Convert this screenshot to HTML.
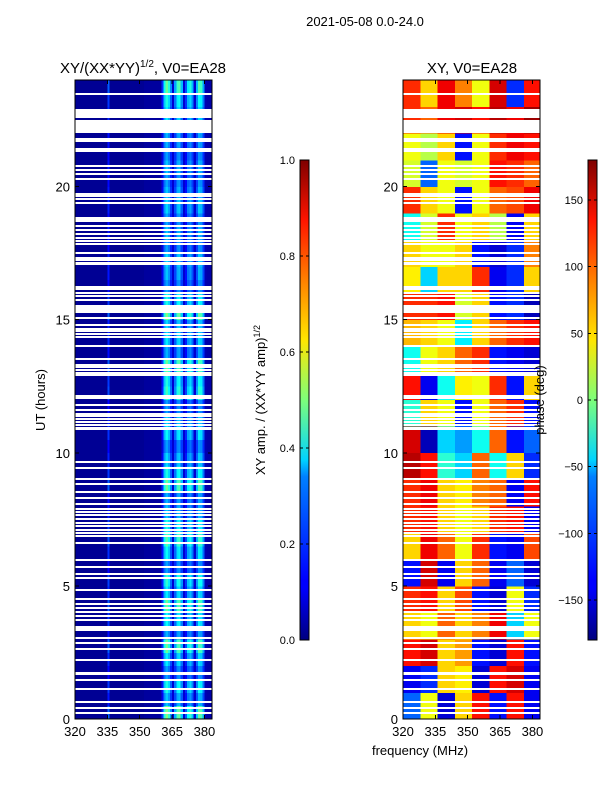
<!DOCTYPE html>
<html><head><meta charset="utf-8">
<style>
body{margin:0;background:#fff;}
svg text{font-family:"Liberation Sans",sans-serif;fill:#000;}
</style></head>
<body>
<svg id="fig" width="600" height="800" xmlns="http://www.w3.org/2000/svg" shape-rendering="crispEdges">
<defs>
<linearGradient id="jet" x1="0" y1="1" x2="0" y2="0">
<stop offset="0" stop-color="#00007f"/><stop offset="0.11" stop-color="#0000ff"/>
<stop offset="0.125" stop-color="#0000ff"/><stop offset="0.34" stop-color="#0080ff"/>
<stop offset="0.375" stop-color="#00d4ff"/><stop offset="0.5" stop-color="#7dff7a"/>
<stop offset="0.625" stop-color="#ffe600"/><stop offset="0.75" stop-color="#ff8000"/>
<stop offset="0.875" stop-color="#ff1400"/><stop offset="1" stop-color="#7f0000"/>
</linearGradient>
</defs>
<text x="365" y="26" font-size="13" text-anchor="middle">2021-05-08 0.0-24.0</text>
<text x="143" y="73" font-size="15" text-anchor="middle">XY/(XX*YY)<tspan font-size="10" dy="-6">1/2</tspan><tspan dy="6">, V0=EA28</tspan></text>
<text x="472" y="73" font-size="15" text-anchor="middle">XY, V0=EA28</text>
<g id="ampPlot"></g>
<g id="phasePlot"></g>
<g id="axes"></g>
<text transform="translate(45,400) rotate(-90)" font-size="13" text-anchor="middle">UT (hours)</text>
<text x="420" y="755" font-size="13" text-anchor="middle">frequency (MHz)</text>
<rect x="300" y="160" width="9" height="480" fill="url(#jet)" stroke="#000" stroke-width="1"/>
<rect x="588" y="160" width="9" height="480" fill="url(#jet)" stroke="#000" stroke-width="1"/>
<text transform="translate(265,400) rotate(-90)" font-size="13" text-anchor="middle">XY amp. / (XX*YY amp)<tspan font-size="9" dy="-5">1/2</tspan></text>
<text transform="translate(544,400) rotate(-90)" font-size="13" text-anchor="middle">phase (deg)</text>
<g id="cbars"></g>
</svg>
<script>
// ---- data ----
const freqTicks = [320, 335, 350, 365, 380];
const hourTicks = [0, 5, 10, 15, 20];
const ampTicks = [0.0, 0.2, 0.4, 0.6, 0.8, 1.0];
const phaseTicks = [-150, -100, -50, 0, 50, 100, 150];
// amplitude per 1-MHz channel (320..383)
const ampChan = [0.02,0.02,0.02,0.02,0.02,0.02,0.02,0.02,0.02,0.02,0.02,0.02,0.02,0.02,0.02,0.18,
 0.02,0.02,0.02,0.02,0.02,0.02,0.02,0.02,0.02,0.02,0.02,0.02,0.02,0.02,0.02,0.02,
 0.03,0.03,0.03,0.03,0.03,0.03,0.03,0.03,0.14,0.32,0.4,0.34,0.22,0.08,0.24,0.36,
 0.38,0.26,0.08,0.17,0.3,0.34,0.26,0.08,0.26,0.38,0.36,0.24,0.05,0.04,0.04,0.04];
// per half-hour modulation (0h..24h)
const ampHour = [1.25,0.8,1.0,0.7,0.9,1.2,0.75,0.95,1.2,0.9,1.05,0.7,0.95,1.15,1.0,0.8,0.75,1.2,1.0,0.85,
 0.7,0.95,0.85,0.7,1.1,1.0,1.2,0.75,0.9,0.85,1.25,1.0,0.7,0.8,0.85,0.7,0.8,0.72,0.85,0.8,0.72,0.8,0.7,0.75,0.85,0.9,1.0,1.2];
// phase (deg) per hour (rows 0..23) x 8-MHz bins (320..384)
const phaseGrid = [
 [-100,40,-150,60,130,-130,130,-140],
 [-140,-120,60,50,-150,130,150,-140],
 [130,150,60,80,-130,-150,130,-130],
 [60,40,100,60,90,140,-60,40],
 [120,130,60,110,-130,-150,40,-120],
 [-130,150,-140,60,100,-140,-100,-150],
 [60,140,100,40,120,-130,-140,110],
 [120,130,60,40,60,120,130,-140],
 [120,140,60,50,90,100,-140,130],
 [160,130,-30,-60,100,-40,60,-120],
 [150,-160,-60,-80,-40,100,-130,-100],
 [-30,60,40,-130,40,100,120,-130],
 [130,-140,-40,50,40,120,-130,60],
 [-40,40,60,100,120,-130,-140,-150],
 [70,60,40,-50,60,100,120,130],
 [120,120,130,30,60,-130,-120,-160],
 [50,-60,60,60,120,-140,-120,60],
 [60,40,40,60,-130,-150,-120,90],
 [-40,30,120,40,60,20,-140,60],
 [120,60,40,-130,40,100,110,140],
 [30,-100,40,30,40,130,120,100],
 [40,20,60,-130,40,120,140,130],
 [120,100,140,150,130,160,140,170],
 [120,60,140,90,40,150,-120,130]];
// flagged (white) time ranges, hours
const flagStart = [0.22,0.42,0.63,1.13,1.47,1.68,2.22,2.64,2.85,3.05,3.3,3.47,3.72,3.85,4.01,4.17,4.32,4.48,4.84,5.3,5.45,5.66,5.95,6.59,6.86,6.99,7.11,7.24,7.36,7.52,7.65,7.77,7.89,8.09,8.3,8.53,8.8,9.02,9.42,9.65,
 10.86,11.03,11.16,11.26,11.37,11.47,11.59,11.78,12.06,12.13,12.91,13.01,13.1,13.2,13.28,13.5,14.01,14.35,14.47,14.56,14.66,14.79,15.06,15.24,15.73,15.89,15.99,16.13,16.23,
 17.08,17.14,17.23,17.32,17.46,17.83,17.94,18.07,18.23,18.37,18.52,18.68,19.38,19.54,19.64,19.73,20.29,20.46,20.63,20.76,21.32,21.39,21.69,21.79,22.0,22.6,23.48];
const flagEnd = [0.26,0.46,0.67,1.17,1.51,1.78,2.26,2.68,2.89,3.09,3.43,3.51,3.76,3.89,4.05,4.21,4.36,4.54,4.88,5.34,5.49,5.74,6.0,6.66,6.9,7.03,7.15,7.28,7.4,7.56,7.69,7.81,7.93,8.13,8.34,8.57,8.88,9.06,9.48,9.69,
 10.98,11.07,11.2,11.3,11.41,11.51,11.63,11.82,12.1,12.17,12.95,13.05,13.14,13.24,13.32,13.54,14.05,14.39,14.51,14.6,14.7,14.83,15.1,15.55,15.77,15.93,16.03,16.17,16.27,
 17.12,17.18,17.27,17.36,17.55,17.87,17.98,18.11,18.27,18.41,18.56,18.87,19.42,19.58,19.68,19.77,20.33,20.5,20.67,20.8,21.36,21.43,21.73,21.83,22.5,22.92,23.53];

// ---- scales ----
const NS='http://www.w3.org/2000/svg';
const P1={x0:75,x1:212}, P2={x0:403,x1:540}, Y0=719, Y1=80;
const fMin=320, fMax=383.5, hMax=24;
function xs(P,f){return P.x0+(f-fMin)/(fMax-fMin)*(P.x1-P.x0);}
function ys(h){return Y0-h/hMax*(Y0-Y1);}
function jet(t){t=Math.max(0,Math.min(1,t));
 const c=v=>Math.round(255*Math.max(0,Math.min(1,v)));
 const r=1.5-Math.abs(4*t-3), g=1.5-Math.abs(4*t-2), b=1.5-Math.abs(4*t-1);
 return `rgb(${c(r)},${c(g)},${c(b)})`;}
function mk(tag,attrs,parent){const e=document.createElementNS(NS,tag);for(const k in attrs)e.setAttribute(k,attrs[k]);parent.appendChild(e);return e;}

// amplitude heatmap
const ampG=document.getElementById('ampPlot');
ampHour.forEach((m,r)=>{
 const ya=ys(r*0.5+0.5), yb=ys(r*0.5);
 ampChan.forEach((a,c)=>{
  const xa=xs(P1,fMin+c), xb=Math.min(xs(P1,fMin+c+1),P1.x1);
  const v=a<0.1?a:a*m;
  const el=mk('rect',{x:xa.toFixed(2),y:ya.toFixed(2),width:(xb-xa+0.4).toFixed(2),height:(yb-ya+0.4).toFixed(2),fill:jet(v)},ampG);
  
  
 });
});
// phase heatmap
const phG=document.getElementById('phasePlot');
phaseGrid.forEach((row,r)=>{
 row.forEach((p,c)=>{
  const xa=xs(P2,fMin+c*8), xb=Math.min(xs(P2,fMin+c*8+8),P2.x1);
  const el=mk('rect',{x:xa.toFixed(2),y:ys(r+1).toFixed(2),width:(xb-xa+0.4).toFixed(2),height:(ys(r)-ys(r+1)+0.4).toFixed(2),fill:jet((p+180)/360)},phG);
  
  
 });
});
// flags
[[P1,ampG],[P2,phG]].forEach(([P,g])=>{
 flagStart.forEach((s,i)=>{
  const e=flagEnd[i];
  const top=Math.round(ys(e)), h=Math.max(2,Math.round(ys(s)-ys(e)));
  const el=mk('rect',{x:P.x0,y:top,width:P.x1-P.x0,height:h,fill:'#fff'},g);
  
  
 });
});
// axes
const ax=document.getElementById('axes');
[P1,P2].forEach((P,pi)=>{
 const fr=mk('rect',{x:P.x0,y:Y1,width:P.x1-P.x0,height:Y0-Y1,fill:'none',stroke:'#000','stroke-width':1},ax);
 
 
 freqTicks.forEach(f=>{
  const x=xs(P,f);
  mk('line',{x1:x,x2:x,y1:Y0,y2:Y0-4,stroke:'#000'},ax);
  mk('line',{x1:x,x2:x,y1:Y1,y2:Y1+4,stroke:'#000'},ax);
  const t=mk('text',{x:x,y:Y0+17,'font-size':13,'text-anchor':'middle'},ax);
  t.textContent=f;
  
  
 });
 hourTicks.forEach(h=>{
  const y=ys(h);
  mk('line',{x1:P.x0,x2:P.x0+4,y1:y,y2:y,stroke:'#000'},ax);
  mk('line',{x1:P.x1,x2:P.x1-4,y1:y,y2:y,stroke:'#000'},ax);
  const t=mk('text',{x:P.x0-5,y:y+5,'font-size':13,'text-anchor':'end'},ax);
  t.textContent=h;
  
  
 });
});
// colorbar ticks
const cb=document.getElementById('cbars');
ampTicks.forEach(v=>{
 const y=640-v*480;
 mk('line',{x1:300,x2:303,y1:y,y2:y,stroke:'#000'},cb);
 mk('line',{x1:309,x2:306,y1:y,y2:y,stroke:'#000'},cb);
 const t=mk('text',{x:295,y:y+4,'font-size':11,'text-anchor':'end'},cb);
 t.textContent=v.toFixed(1);
 
 
});
phaseTicks.forEach(v=>{
 const y=640-(v+180)/360*480;
 mk('line',{x1:588,x2:591,y1:y,y2:y,stroke:'#000'},cb);
 mk('line',{x1:597,x2:594,y1:y,y2:y,stroke:'#000'},cb);
 const t=mk('text',{x:583,y:y+4,'font-size':11,'text-anchor':'end'},cb);
 t.textContent=v<0?'\u2212'+(-v):v;
 
 
});
</script>
</body></html>
